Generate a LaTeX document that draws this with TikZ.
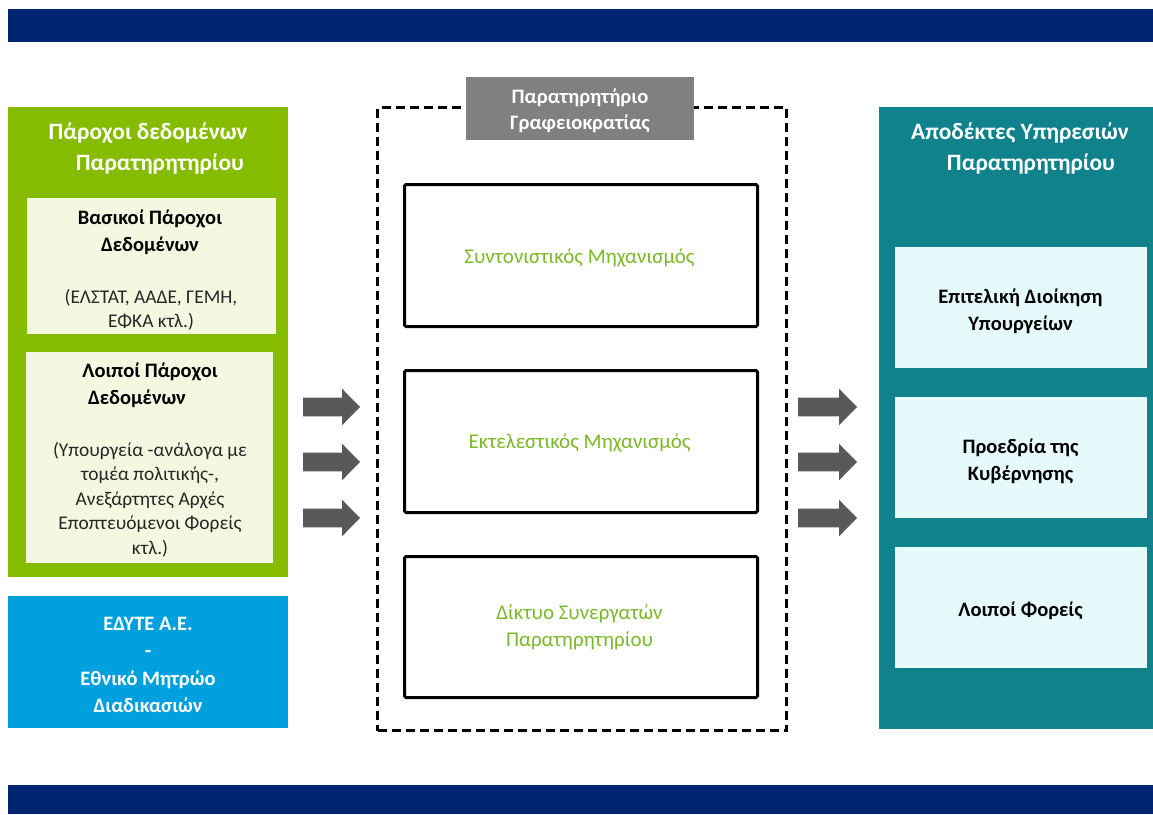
\documentclass[tikz,border=0pt]{standalone}
\usepackage{fontspec}
\setmainfont{Carlito}
\usetikzlibrary{positioning}
\definecolor{navy}{RGB}{0,37,112}
\definecolor{leftgreen}{RGB}{133,188,0}
\definecolor{palegreen}{RGB}{242,249,224}
\definecolor{sky}{RGB}{0,160,223}
\definecolor{teal2}{RGB}{15,130,140}
\definecolor{palecyan}{RGB}{230,249,251}
\definecolor{labelgray}{RGB}{128,128,128}
\definecolor{arrowgray}{RGB}{89,89,89}
\definecolor{txtgreen}{RGB}{122,185,41}
\tikzset{
  panel/.style={rectangle, inner sep=0pt, anchor=north west},
  whitehead/.style={text=white, font=\bfseries\fontsize{23.4}{31}\selectfont, align=center, inner sep=0pt},
  darkhead/.style={text=black, font=\bfseries\fontsize{20.5}{27}\selectfont, align=center, inner sep=0pt},
  darkbody/.style={text=black!85, font=\fontsize{19.4}{24.5}\selectfont, align=center, inner sep=0pt},
  whitebody/.style={text=white, font=\bfseries\fontsize{20.5}{27.3}\selectfont, align=center, inner sep=0pt},
  mechbox/.style={panel, draw=black, line width=3pt, rounded corners=1.5pt, fill=white},
  mechtext/.style={text=txtgreen, font=\fontsize{21}{27}\selectfont, align=center, inner sep=0pt},
  blockarrow/.style={fill=arrowgray}
}
\begin{document}
\begin{tikzpicture}[x=1pt,y=-1pt]
\useasboundingbox[fill=white] (0,0) rectangle (1153,814);
% bars
\node[panel, fill=navy, minimum width=1145pt, minimum height=33pt] (topbar) at (8,9) {};
\node[panel, fill=navy, minimum width=1145pt, minimum height=29pt] (botbar) at (8,785) {};
% left green panel
\node[panel, fill=leftgreen, minimum width=280pt, minimum height=470pt] (prov) at (8,107) {};
\node[whitehead] (provt) at (148,148.5) {Πάροχοι δεδομένων\\\hspace*{24pt}Παρατηρητηρίου};
\node[panel, fill=palegreen, minimum width=249pt, minimum height=136pt] (basic) at (27,198) {};
\node[darkhead] (basicA) at (150,232.5) {Βασικοί Πάροχοι\\Δεδομένων};
\node[darkbody] (basicB) at (151,309.5) {(ΕΛΣΤΑΤ, ΑΑΔΕ, ΓΕΜΗ,\\ΕΦΚΑ κτλ.)};
\node[panel, fill=palegreen, minimum width=247pt, minimum height=211pt] (other) at (26,352) {};
\node[darkhead] (otherA) at (150,385.5) {Λοιποί Πάροχοι\\Δεδομένων\hspace*{26pt}};
\node[darkbody] (otherB) at (150,499.5) {(Υπουργεία -ανάλογα με\\τομέα πολιτικής-,\\Ανεξάρτητες Αρχές\\Εποπτευόμενοι Φορείς\\κτλ.)};
% blue panel
\node[panel, fill=sky, minimum width=280pt, minimum height=132pt] (edyte) at (8,596) {};
\node[whitebody] (edytet) at (148,665) {ΕΔΥΤΕ Α.Ε.\\-\\Εθνικό Μητρώο\\Διαδικασιών};
% central dashed frame
\node[panel, draw=black, line width=3pt, dash pattern=on 9pt off 5pt, minimum width=409pt, minimum height=623pt] (obs) at (376,106) {};
\node[panel, fill=labelgray, minimum width=228pt, minimum height=63pt] (obsl) at (466,77) {};
\node[whitebody, font=\bfseries\fontsize{20.6}{26}\selectfont] (obst) at (580,111) {Παρατηρητήριο\\Γραφειοκρατίας};
\node[mechbox, minimum width=353pt, minimum height=142pt] (m1) at (403,183) {};
\node[mechtext] (m1t) at (579.5,257.5) {Συντονιστικός Μηχανισμός};
\node[mechbox, minimum width=353pt, minimum height=142pt] (m2) at (403,369) {};
\node[mechtext] (m2t) at (579.5,443) {Εκτελεστικός Μηχανισμός};
\node[mechbox, minimum width=353pt, minimum height=141pt] (m3) at (403,555) {};
\node[mechtext] (m3t) at (579.5,627.5) {Δίκτυο Συνεργατών\\Παρατηρητηρίου};
% right teal panel
\node[panel, fill=teal2, minimum width=281pt, minimum height=622pt] (recv) at (879,107) {};
\node[whitehead] (recvt) at (1020,148.5) {Αποδέκτες Υπηρεσιών\\\hspace*{22pt}Παρατηρητηρίου};
\node[panel, fill=palecyan, minimum width=252pt, minimum height=121pt] (r1) at (895,247) {};
\node[darkhead] (r1t) at (1020.5,311.5) {Επιτελική Διοίκηση\\Υπουργείων};
\node[panel, fill=palecyan, minimum width=252pt, minimum height=121pt] (r2) at (895,397) {};
\node[darkhead] (r2t) at (1020.5,461.5) {Προεδρία της\\Κυβέρνησης};
\node[panel, fill=palecyan, minimum width=252pt, minimum height=121pt] (r3) at (895,547) {};
\node[darkhead] (r3t) at (1020.5,611) {Λοιποί Φορείς};
% block arrows
\foreach \yy in {407,462,518}{
  \fill[blockarrow] (303,{\yy-9.3}) -- (342,{\yy-9.3}) -- (342,{\yy-18.3}) -- (360,\yy) -- (342,{\yy+18.3}) -- (342,{\yy+9.3}) -- (303,{\yy+9.3}) -- cycle;
  \fill[blockarrow] (798,{\yy-9.3}) -- (839,{\yy-9.3}) -- (839,{\yy-18.3}) -- (857,\yy) -- (839,{\yy+18.3}) -- (839,{\yy+9.3}) -- (798,{\yy+9.3}) -- cycle;
}
\end{tikzpicture}
\end{document}
